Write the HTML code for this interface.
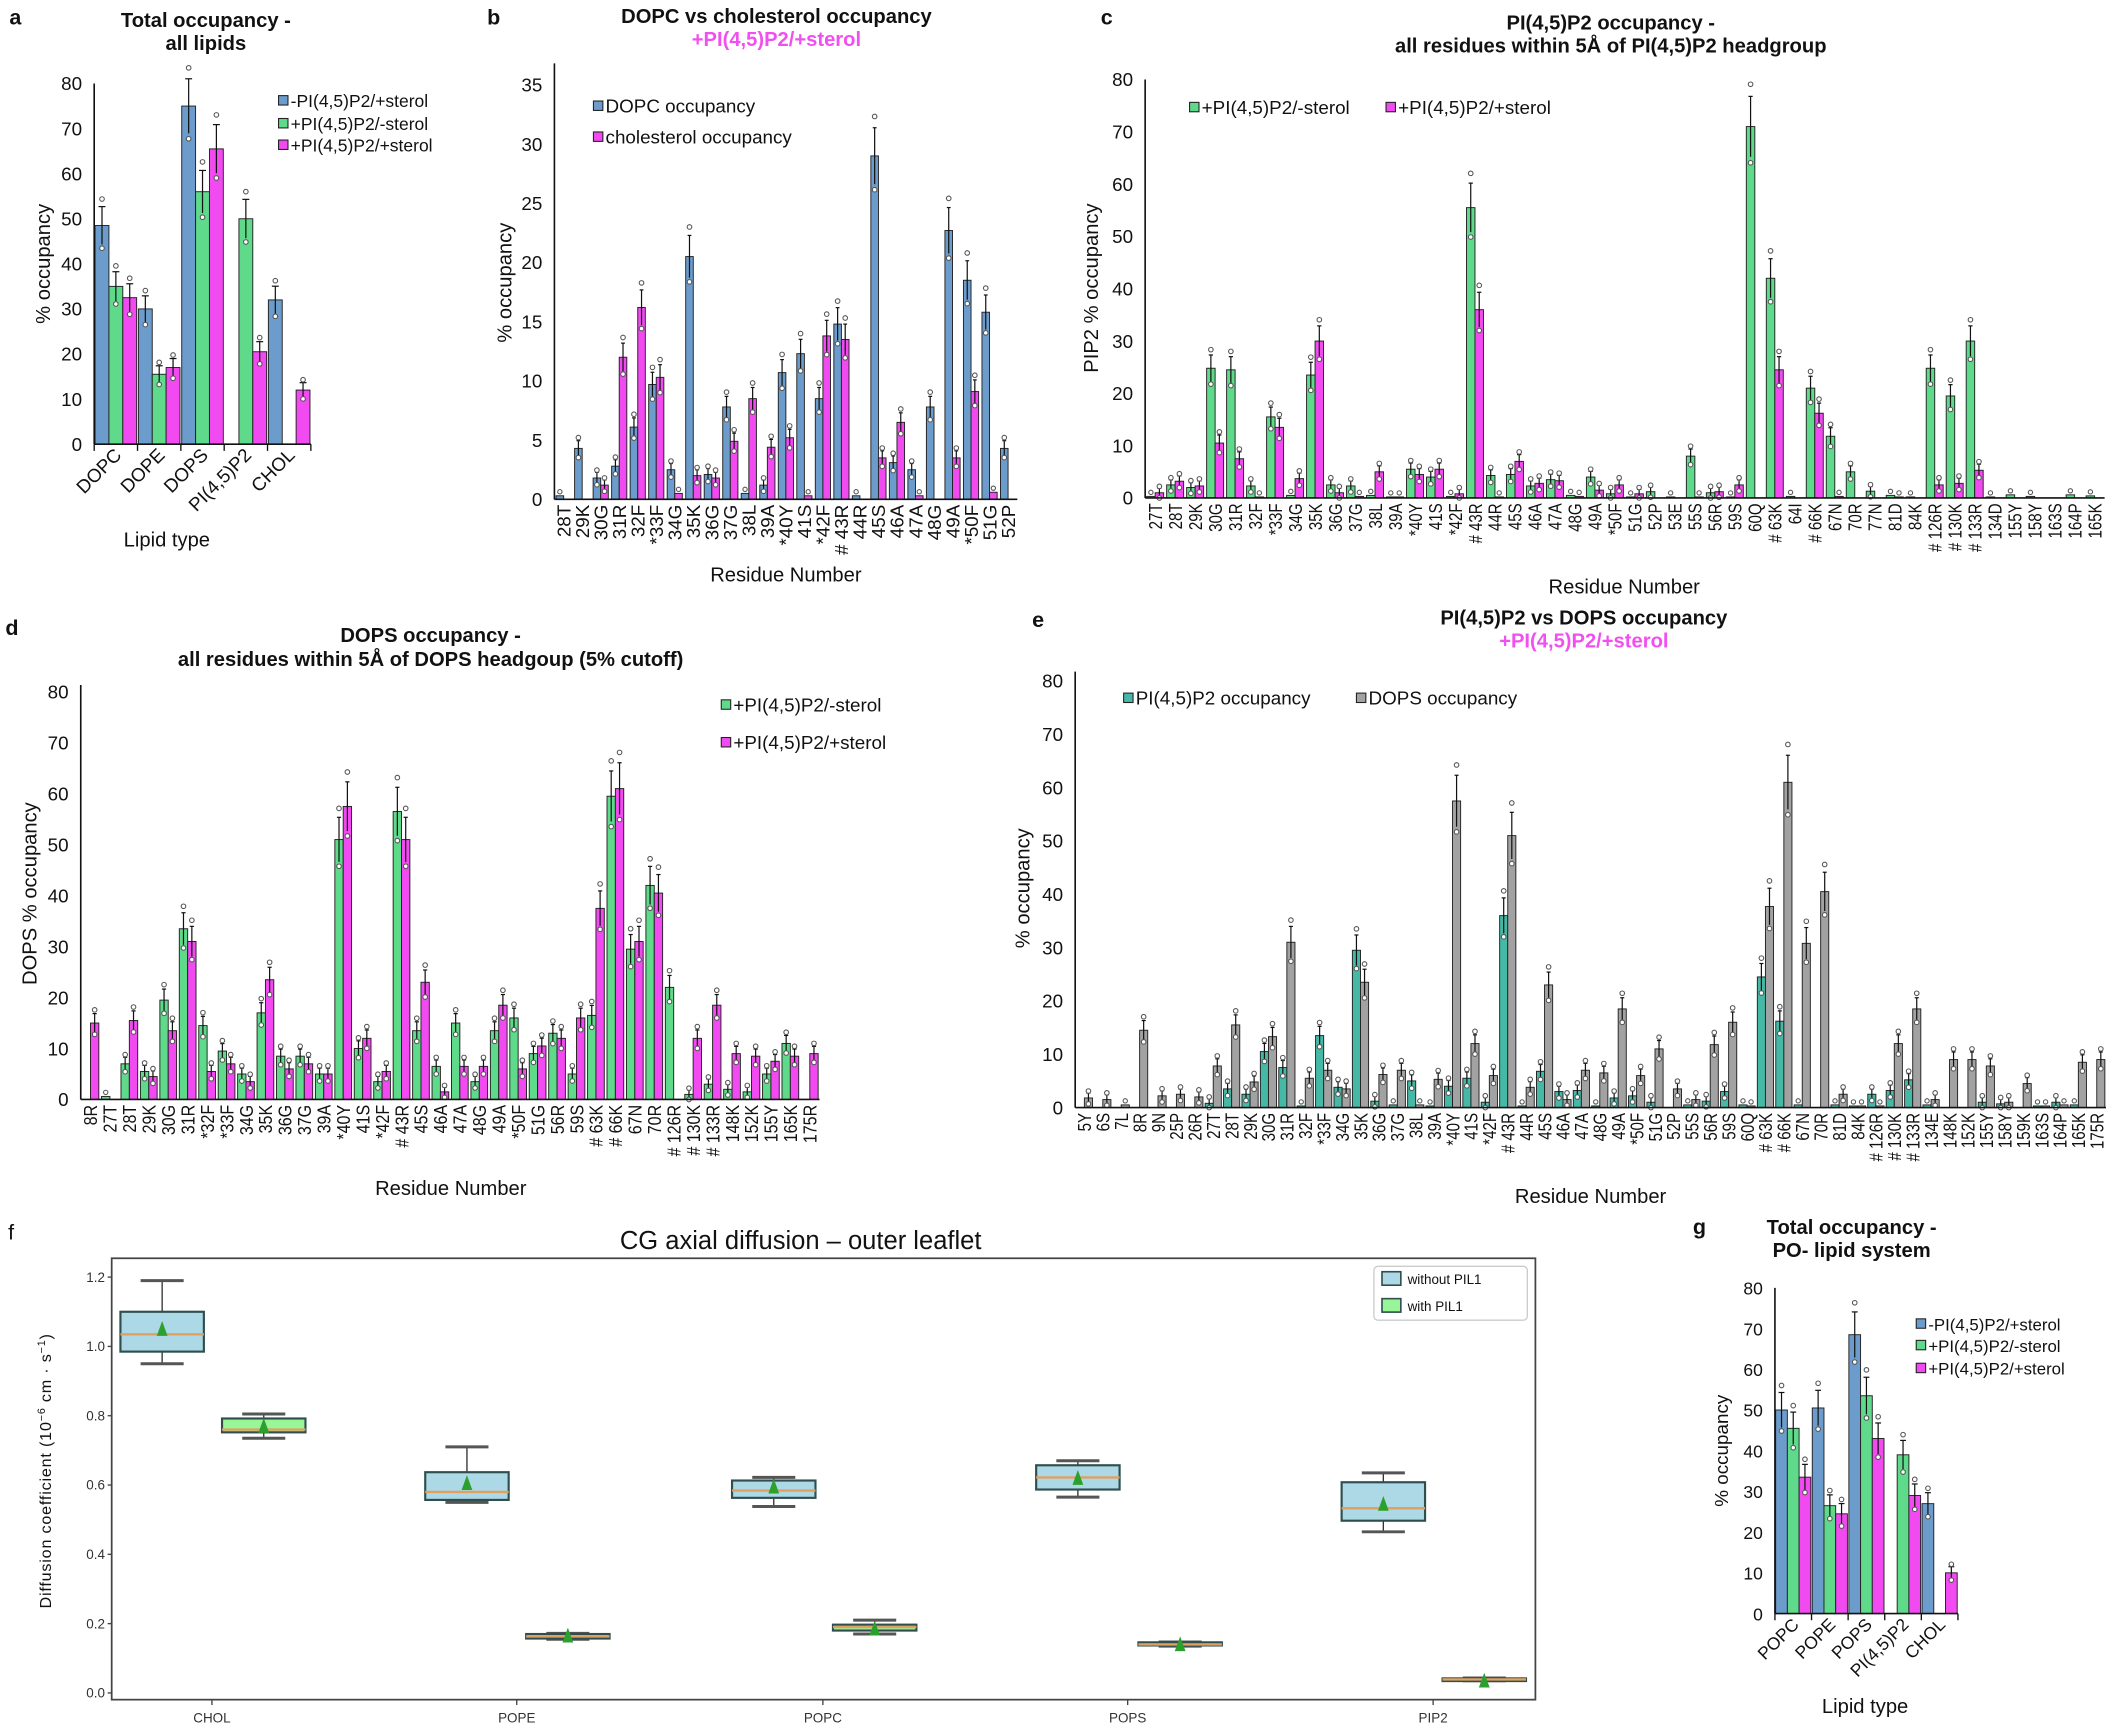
<!DOCTYPE html>
<html><head><meta charset="utf-8"><style>html,body{margin:0;padding:0;background:#fff}svg{display:block}</style></head>
<body>
<svg id="s" xmlns="http://www.w3.org/2000/svg" width="2110" height="1728" viewBox="0 0 1568 1284" font-family="'Liberation Sans', Arial, sans-serif"></svg>
<script>
var out='<rect x="0" y="0" width="1568" height="1284" fill="#fff"/>';
function T(x,y,t,o){o=o||{};out+='<text x="'+x+'" y="'+y+'" font-size="'+(o.fs||14)+'"'+(o.b?' font-weight="bold"':'')+' text-anchor="'+(o.a||'middle')+'" fill="'+(o.c||'#111')+'"'+(o.tr?' transform="'+o.tr+'"':'')+(o.ls?' letter-spacing="'+o.ls+'"':'')+'>'+t+'</text>';}
function L(x1,y1,x2,y2,c,w){out+='<line x1="'+x1+'" y1="'+y1+'" x2="'+x2+'" y2="'+y2+'" stroke="'+(c||'#111')+'" stroke-width="'+(w||1)+'"/>';}
function R(x,y,w,h,f,st,sw){out+='<rect x="'+x+'" y="'+y+'" width="'+w+'" height="'+h+'" fill="'+f+'" stroke="'+(st||'#222')+'" stroke-width="'+(sw==null?0.8:sw)+'"/>';}
function C(x,y,r){out+='<circle cx="'+x+'" cy="'+y+'" r="'+r+'" fill="#fff" stroke="#555" stroke-width="0.8"/>';}
var BL='#6c9ccb',GR='#5fd98a',MG='#f04af0',TE='#45b8a6',GY='#a2a2a2';
function bars(c){
  var n=c.cats.length,sw=(c.x1-c.x0)/n,ns=c.series.length,fill=c.fill||0.9;
  var bw=sw*fill/ns;
  function Y(v){return c.y0-v*(c.y0-c.yT)/c.max;}
  for(var i=0;i<n;i++){
    var st=c.x0+i*sw+(sw-bw*ns)/2;
    for(var s=0;s<ns;s++){
      var v=c.series[s].v[i];
      if(v==null)continue;
      var x=st+s*bw;
      if(v>0) R(x.toFixed(2),Y(v).toFixed(2),bw.toFixed(2),(c.y0-Y(v)).toFixed(2),c.series[s].c,'#222',0.7);
      if(v>0.6){
        var e=v*0.07+0.4*(c.max/40);var cx=x+bw/2;
        L(cx.toFixed(2),Y(v+e).toFixed(2),cx.toFixed(2),Y(Math.max(0,v-e)).toFixed(2),'#111',0.9);
        L((cx-bw*0.25).toFixed(2),Y(v+e).toFixed(2),(cx+bw*0.25).toFixed(2),Y(v+e).toFixed(2),'#111',0.9);
        C(cx.toFixed(2),Y(v+e*1.4).toFixed(2),1.7);
        C(cx.toFixed(2),Y(Math.max(0,v-e*1.2)).toFixed(2),1.7);
      } else if(v>0){C((x+bw/2).toFixed(2),(Y(v)-3).toFixed(2),1.6);}
    }
    var cx=c.x0+(i+0.5)*sw;
    if(c.rot=='v'){
      T(0,0,c.cats[i],{fs:c.lfs||14,a:'end',tr:'translate('+(cx+(c.lfs||14)*0.36).toFixed(2)+','+(c.y0+4)+') rotate(-90) scale('+(c.lsx||1)+',1)'});
    } else {
      T(0,0,c.cats[i],{fs:c.lfs||14,a:'end',tr:'translate('+(cx+5).toFixed(2)+','+(c.y0+9)+') rotate(-45)'});
    }
    if(c.ticks){L((c.x0+i*sw).toFixed(2),c.y0,(c.x0+i*sw).toFixed(2),c.y0+5,'#111',1);}
  }
  if(c.ticks)L(c.x1,c.y0,c.x1,c.y0+5,'#111',1);
  L(c.x0,c.y0,c.x1,c.y0,'#111',1.2);
  L(c.x0,c.y0,c.x0,c.axTop||c.yT,'#111',1.2);
  for(var v=0;v<=c.max+0.001;v+=c.step){T(c.x0-9,(Y(v)+5).toFixed(2),v,{fs:c.tfs||14,a:'end'});}
}
function leg(x,y,col,t,fs){R(x,y-4,7,7,col,'#222',0.8);T(x+9,y+4.5,t,{fs:fs||13,a:'start'});}

/* ---------- a ---------- */
T(7,18,'a',{b:1,fs:16,a:'start'});
T(153,20,'Total occupancy -',{b:1,fs:15});T(153,37,'all lipids',{b:1,fs:15});
bars({x0:70,x1:231,y0:330,yT:62,max:80,step:10,fill:0.96,ticks:1,rot:'d',lfs:14,
 cats:['DOPC','DOPE','DOPS','PI(4,5)P2','CHOL'],
 series:[{c:BL,v:[48.5,30,75,null,32]},{c:GR,v:[35,15.5,56,50,null]},{c:MG,v:[32.5,17,65.5,20.5,12]}]});
T(0,0,'% occupancy',{fs:15,tr:'translate(37,196) rotate(-90)'});
T(124,406,'Lipid type',{fs:15});
leg(207,75,BL,'-PI(4,5)P2/+sterol');leg(207,92,GR,'+PI(4,5)P2/-sterol');leg(207,108,MG,'+PI(4,5)P2/+sterol');

/* ---------- b ---------- */
T(362,18,'b',{b:1,fs:16,a:'start'});
T(577,17,'DOPC vs cholesterol occupancy',{b:1,fs:15});T(577,34,'+PI(4,5)P2/+sterol',{b:1,fs:15,c:'#f050f0'});
bars({x0:412,x1:756,y0:371,yT:63,max:35,step:5,axTop:47,rot:'v',lfs:14,fill:0.82,
 cats:['28T','29K','30G','31R','32F','*33F','34G','35K','36G','37G','38L','39A','*40Y','41S','*42F','# 43R','44R','45S','46A','47A','48G','49A','*50F','51G','52P'],
 series:[{c:BL,v:[0.3,4.3,1.8,2.8,6.1,9.7,2.5,20.5,2.1,7.8,0.5,1.2,10.7,12.3,8.5,14.8,0.3,29,3.1,2.5,7.8,22.7,18.5,15.8,4.3]},
         {c:MG,v:[0,0,1.2,12,16.2,10.3,0.5,2,1.8,4.9,8.5,4.4,5.2,0.3,13.8,13.5,0,3.5,6.5,0.3,0,3.5,9.1,0.6,0]}]});
T(0,0,'% occupancy',{fs:15,tr:'translate(380,210) rotate(-90)'});
T(584,432,'Residue Number',{fs:15});
leg(441,79,BL,'DOPC occupancy',14);leg(441,102,MG,'cholesterol occupancy',14);

/* ---------- c ---------- */
T(818,18,'c',{b:1,fs:16,a:'start'});
T(1197,22,'PI(4,5)P2 occupancy -',{b:1,fs:15});T(1197,39,'all residues within 5Å of PI(4,5)P2 headgroup',{b:1,fs:15});
bars({x0:851,x1:1564,y0:370,yT:59,max:80,step:10,rot:'v',lfs:14,lsx:0.8,fill:0.85,
 cats:['27T','28T','29K','30G','31R','32F','*33F','34G','35K','36G','37G','38L','39A','*40Y','41S','*42F','# 43R','44R','45S','46A','47A','48G','49A','*50F','51G','52P','53E','55S','56R','59S','60Q','# 63K','64I','# 66K','67N','70R','77N','81D','84K','# 126R','# 130K','# 133R','134D','155Y','158Y','163S','164P','165K'],
 series:[{c:GR,v:[0.3,2.5,2,24.8,24.5,2.3,15.5,0.5,23.5,2.5,2.3,0.5,0.2,5.5,4,0.3,55.5,4.3,4.5,2.3,3.5,0.5,4,0.8,0.2,1.2,0.2,8,1,0.2,71,42,0.3,21,11.8,5,1.3,0.5,0.2,24.8,19.5,30,0.2,0.6,0.3,0,0.6,0.4]},
         {c:MG,v:[1,3.2,2.3,10.5,7.5,0.2,13.5,3.7,30,1,0.3,5,0.2,4.5,5.5,0.8,36,0.2,7,2.8,3.3,0.3,1.5,2.5,0.8,0,0,0.2,1.2,2.5,0,24.5,0,16.2,0.3,0,0,0.2,0,2.5,2.8,5.3,0,0,0,0,0,0]}]});
T(0,0,'PIP2 % occupancy',{fs:15,tr:'translate(816,214) rotate(-90)'});
T(1207,441,'Residue Number',{fs:15});
leg(884,80,GR,'+PI(4,5)P2/-sterol',14);leg(1030,80,MG,'+PI(4,5)P2/+sterol',14);

/* ---------- d ---------- */
T(4,472,'d',{b:1,fs:16,a:'start'});
T(320,477,'DOPS occupancy -',{b:1,fs:15});T(320,495,'all residues within 5Å of DOPS headgoup (5% cutoff)',{b:1,fs:15});
bars({x0:60,x1:609,y0:817,yT:514,max:80,step:10,axTop:509,rot:'v',lfs:14,lsx:0.85,fill:0.86,
 cats:['8R','27T','28T','29K','30G','31R','*32F','*33F','34G','35K','36G','37G','39A','*40Y','41S','*42F','# 43R','45S','46A','47A','48G','49A','*50F','51G','56R','59S','# 63K','# 66K','67N','70R','# 126R','# 130K','# 133R','148K','152K','155Y','165K','175R'],
 series:[{c:GR,v:[0,0.6,7,5.5,19.5,33.5,14.5,9.5,5,17,8.5,8.5,5,51,10,3.5,56.5,13.5,6.5,15,3.5,13.5,16,9,13,5,16.5,59.5,29.5,42,22,1,3,2,1.5,5,11,0]},
         {c:MG,v:[15,0,15.5,4.5,13.5,31,5.5,7,3.5,23.5,6,7,5,57.5,12,5.5,51,23,1.5,6.5,6.5,18.5,6,10.5,12,16,37.5,61,31,40.5,0,12,18.5,9,8.5,7.5,8.5,9]}]});
T(0,0,'DOPS % occupancy',{fs:15,tr:'translate(27,664) rotate(-90)'});
T(335,888,'Residue Number',{fs:15});
leg(536,524,GR,'+PI(4,5)P2/-sterol',14);leg(536,552,MG,'+PI(4,5)P2/+sterol',14);

/* ---------- e ---------- */
T(767,466,'e',{b:1,fs:16,a:'start'});
T(1177,464,'PI(4,5)P2 vs DOPS occupancy',{b:1,fs:15});T(1177,481,'+PI(4,5)P2/+sterol',{b:1,fs:15,c:'#f050f0'});
bars({x0:799,x1:1565,y0:823,yT:506,max:80,step:10,axTop:499,rot:'v',lfs:14,lsx:0.8,fill:0.88,
 cats:['5Y','6S','7L','8R','9N','25P','26R','27T','28T','29K','30G','31R','32F','*33F','34G','35K','36G','37G','38L','39A','*40Y','41S','*42F','# 43R','44R','45S','46A','47A','48G','49A','*50F','51G','52P','55S','56R','59S','60Q','# 63K','# 66K','67N','70R','81D','84K','# 126R','# 130K','# 133R','134E','148K','152K','155Y','158Y','159K','163S','164P','165K','175R'],
 series:[{c:TE,v:[0,0,0,0,0,0,0,0.8,3.5,2.5,10.5,7.5,0.3,13.5,3.8,29.5,1.2,0.5,5,0.3,4,5.5,1,36,0.3,6.8,3,3.2,0.3,1.8,2.2,1,0,0.5,1.2,3,0.5,24.5,16.2,0.5,0,0.5,0.3,2.5,3.2,5.2,0.5,0,0,1,0.7,0,0.3,1,0.5,0]},
         {c:GY,v:[1.8,1.5,0.5,14.5,2.2,2.5,2,7.8,15.5,4.8,13.3,31,5.5,7,3.5,23.5,6.2,7,0.5,5.3,57.5,12,6,51,3.8,23,1.5,7,6.5,18.5,6,11,3.5,1.5,11.8,16,0.3,37.7,61,30.8,40.5,2.5,0.3,0.3,12,18.5,1.5,9,9,7.8,1,4.5,0.3,0.5,8.5,9]}]});
T(0,0,'% occupancy',{fs:15,tr:'translate(765,660) rotate(-90)'});
T(1182,894,'Residue Number',{fs:15});
leg(835,519,TE,'PI(4,5)P2 occupancy',14);leg(1008,519,GY,'DOPS occupancy',14);

/* ---------- f ---------- */
T(6,921,'f',{fs:16,a:'start'});
T(595,928,'CG axial diffusion – outer leaflet',{fs:19});
R(83,935,1058,328,'#fff','#444',1.3);
function FY(v){return 1258-v*257.5;}
for(var k=0;k<=6;k++){var v=k*0.2;L(80,FY(v),83,FY(v),'#444',1);T(78,FY(v)+3.5,v.toFixed(1),{fs:10,a:'end',c:'#333'});}
var fc=[157.5,384,611.5,838,1065],fn=['CHOL','POPE','POPC','POPS','PIP2'];
for(var k=0;k<5;k++){L(fc[k],1263,fc[k],1267,'#444',1);T(fc[k],1280,fn[k],{fs:10,c:'#333'});}
function box(cx,lo,q1,md,q3,hi,mn,f){
  var w=62,h=w/2;
  L(cx,FY(hi),cx,FY(q3),'#333',1);L(cx,FY(q1),cx,FY(lo),'#333',1);
  L(cx-16,FY(hi),cx+16,FY(hi),'#555',2.2);L(cx-16,FY(lo),cx+16,FY(lo),'#555',2.2);
  R(cx-h,FY(q3),w,Math.max(2,FY(q1)-FY(q3)),f,'#2f4f4f',1.6);
  L(cx-h,FY(md),cx+h,FY(md),'#e0a060',1.8);
  var ty=FY(mn);out+='<polygon points="'+(cx-4)+','+(ty+5)+' '+(cx+4)+','+(ty+5)+' '+cx+','+(ty-6)+'" fill="#2ca02c"/>';
}
var LB='#add8e6',LG='#98f598';
box(120.5,0.95,0.985,1.035,1.10,1.19,1.05,LB);box(196,0.735,0.752,0.76,0.792,0.805,0.77,LG);
box(347,0.55,0.557,0.58,0.637,0.71,0.605,LB);box(422,0.155,0.157,0.163,0.17,0.172,0.165,LG);
box(575,0.538,0.563,0.584,0.613,0.622,0.595,LB);box(650,0.17,0.18,0.19,0.197,0.21,0.185,LG);
box(801,0.565,0.587,0.622,0.657,0.67,0.62,LB);box(877,0.135,0.137,0.14,0.146,0.147,0.14,LG);
box(1028,0.465,0.497,0.533,0.608,0.635,0.545,LB);box(1103,0.035,0.036,0.039,0.042,0.043,0.035,LG);
out+='<rect x="1021" y="941" width="114" height="40" rx="3" fill="#fff" stroke="#ccc" stroke-width="1"/>';
R(1027,945,14,10,LB,'#2f4f4f',1.2);T(1046,954,'without PIL1',{fs:10,a:'start'});
R(1027,965,14,10,LG,'#2f4f4f',1.2);T(1046,974,'with PIL1',{fs:10,a:'start'});
T(0,0,'Diffusion coefficient (10<tspan baseline-shift="super" font-size="8">−6</tspan> cm · s<tspan baseline-shift="super" font-size="8">−1</tspan>)',{fs:12,ls:'0.6',tr:'translate(38,1093) rotate(-90)'});

/* ---------- g ---------- */
T(1258,917,'g',{b:1,fs:16,a:'start'});
T(1376,917,'Total occupancy -',{b:1,fs:15});T(1376,934,'PO- lipid system',{b:1,fs:15});
bars({x0:1319,x1:1455,y0:1199,yT:957,max:80,step:10,fill:0.96,ticks:1,rot:'d',lfs:13,tfs:13,
 cats:['POPC','POPE','POPS','PI(4,5)P2','CHOL'],
 series:[{c:BL,v:[50,50.5,68.5,null,27]},{c:GR,v:[45.5,26.5,53.5,39,null]},{c:MG,v:[33.5,24.5,43,29,10]}]});
T(0,0,'% occupancy',{fs:14,tr:'translate(1284,1078) rotate(-90)'});
T(1386,1273,'Lipid type',{fs:15});
leg(1424,984,BL,'-PI(4,5)P2/+sterol',12.5);leg(1424,1000,GR,'+PI(4,5)P2/-sterol',12.5);leg(1424,1017,MG,'+PI(4,5)P2/+sterol',12.5);

document.getElementById('s').innerHTML=out;
</script>
</body></html>
